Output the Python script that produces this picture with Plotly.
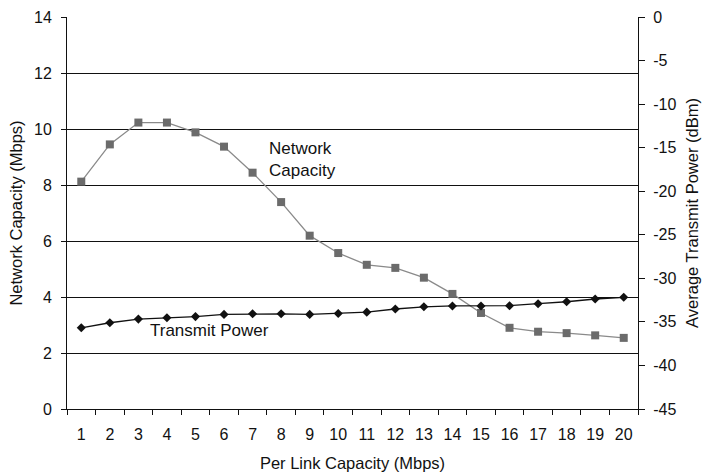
import plotly.graph_objects as go

categories = [str(i) for i in range(1, 21)]
network_capacity = [8.12, 9.45, 10.23, 10.23, 9.88, 9.37, 8.44, 7.39, 6.19, 5.57,
                    5.15, 5.04, 4.69, 4.11, 3.43, 2.90, 2.76, 2.71, 2.63, 2.54]
transmit_power = [-35.68, -35.10, -34.68, -34.52, -34.39, -34.14, -34.07, -34.07, -34.14, -34.04,
                  -33.88, -33.52, -33.27, -33.17, -33.17, -33.14, -32.91, -32.69, -32.37, -32.18]
left_ticks = [0, 2, 4, 6, 8, 10, 12, 14]
right_ticks = [0, -5, -10, -15, -20, -25, -30, -35, -40, -45]
right_tick_labels = [str(v) for v in right_ticks]

FONT = "Liberation Sans, Arial, sans-serif"
TICK = 16
TITLE = 16.5
n = len(categories)
boundaries = [i + 0.5 for i in range(n + 1)]

fig = go.Figure()
fig.add_trace(go.Scatter(
    x=categories, y=network_capacity, mode="lines+markers", name="Network Capacity",
    line=dict(color="#8a8a8a", width=1.3),
    marker=dict(symbol="square", size=8, color="#6b6b6b"),
    xaxis="x", yaxis="y"))
fig.add_trace(go.Scatter(
    x=categories, y=transmit_power, mode="lines+markers", name="Transmit Power",
    line=dict(color="#111111", width=1.3),
    marker=dict(symbol="diamond", size=7, color="#111111"),
    xaxis="x", yaxis="y2"))

fig.update_layout(
    width=703, height=474,
    margin=dict(l=67, r=65, t=17, b=65, autoexpand=False),
    paper_bgcolor="white", plot_bgcolor="white",
    showlegend=False,
    font=dict(family=FONT, size=TICK, color="#111111"),
    xaxis=dict(
        type="category", categoryarray=categories, range=[-0.5, n - 0.5],
        automargin=False,
        tickson="boundaries", ticks="outside", ticklen=5, tickcolor="#111111",
        ticklabelstandoff=11,
        showline=True, linecolor="#111111", linewidth=1, showgrid=False,
        title=dict(text="Per Link Capacity (Mbps)", standoff=15,
                   font=dict(family=FONT, size=TITLE)),
        tickfont=dict(family=FONT, size=TICK)),
    xaxis2=dict(
        overlaying="x", anchor="y", range=[0.5, n + 0.5], automargin=False,
        tickmode="array", tickvals=boundaries, ticks="inside", ticklen=5,
        tickcolor="#111111", showticklabels=False, showgrid=False,
        showline=False, zeroline=False),
    yaxis=dict(
        range=[0, 14], tickmode="array", tickvals=left_ticks, automargin=False,
        ticks="outside", ticklen=5, tickcolor="#111111",
        ticklabelstandoff=6,
        showline=True, linecolor="#111111", linewidth=1,
        showgrid=True, gridcolor="#111111", gridwidth=1, zeroline=False,
        title=dict(text="Network Capacity (Mbps)", standoff=7,
                   font=dict(family=FONT, size=TITLE)),
        tickfont=dict(family=FONT, size=TICK)),
    yaxis2=dict(
        overlaying="y", side="right", anchor="x", range=[-45, 0], automargin=False,
        tickmode="array", tickvals=right_ticks, ticktext=right_tick_labels,
        ticks="outside", ticklen=6, tickcolor="#111111",
        ticklabelstandoff=5,
        showline=True, linecolor="#111111", linewidth=1,
        showgrid=False, zeroline=False,
        title=dict(text="Average Transmit Power (dBm)", standoff=11,
                   font=dict(family=FONT, size=TITLE)),
        tickfont=dict(family=FONT, size=TICK)),
    yaxis3=dict(
        overlaying="y", side="right", anchor="x", range=[-45, 0], automargin=False,
        tickmode="array", tickvals=right_ticks, ticks="inside", ticklen=6,
        tickcolor="#111111", showticklabels=False, showgrid=False,
        showline=False, zeroline=False),
)

fig.add_annotation(x=6.5, y=8.9, xref="x", yref="y",
                   text="Network<br>Capacity", showarrow=False, align="left",
                   xanchor="left", yanchor="middle",
                   font=dict(family=FONT, size=17, color="#111111"))
fig.add_annotation(x=2.34, y=2.79, xref="x", yref="y",
                   text="Transmit Power", showarrow=False, align="left",
                   xanchor="left", yanchor="middle",
                   font=dict(family=FONT, size=17, color="#111111"))

fig.write_html("out.html")
